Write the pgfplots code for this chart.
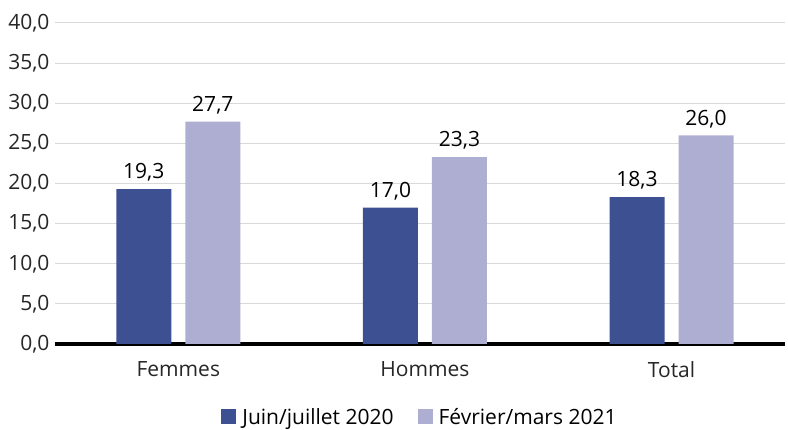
\documentclass[border=0pt]{standalone}
\usepackage{fontspec}
\setmainfont{Open Sans}
\usepackage{pgfplots}
\pgfplotsset{compat=1.18}
\definecolor{darkb}{RGB}{61,80,146}
\definecolor{lightp}{RGB}{174,174,211}
\definecolor{gridc}{RGB}{217,217,217}
\begin{document}
\begin{tikzpicture}
\begin{axis}[
  name=ax,
  scale only axis,
  width=730pt, height=321pt,
  xmin=-0.5, xmax=2.46,
  ymin=0, ymax=40,
  ytick={0,5,...,40},
  xtick={0,1,2},
  xticklabels={Femmes,Hommes,Total},
  ybar, bar width=55pt,
  axis x line*=bottom, axis y line*=left,
  y axis line style={draw=none},
  x axis line style={line width=3.5pt, black, -},
  ymajorgrids, grid style={gridc, line width=1pt},
  major tick length=0pt,
  /pgf/number format/assume math mode=true,
  yticklabel style={/pgf/number format/fixed, /pgf/number format/fixed zerofill, /pgf/number format/precision=1, /pgf/number format/use comma},
  ticklabel style={font=\fontsize{21}{24}\selectfont, text=black!85},
  yticklabel style={xshift=-2pt},
  xticklabel style={yshift=-14pt},
  ytick style={draw=none},
  xtick style={draw=none},
  nodes near coords,
  nodes near coords style={font=\fontsize{21}{24}\selectfont, text=black, yshift=4pt,
     /pgf/number format/fixed, /pgf/number format/fixed zerofill, /pgf/number format/precision=1, /pgf/number format/use comma, /pgf/number format/assume math mode=true},
  legend style={at={(0.5,-0.227)}, anchor=center, draw=none, legend columns=2,
    font=\fontsize{21}{24}\selectfont, inner sep=0pt,
    /tikz/every even column/.append style={column sep=22pt},
    /tikz/every odd column/.append style={column sep=4pt}},
  legend image code/.code={\fill[#1] (0pt,-7pt) rectangle (15pt,8pt);},
  clip=false,
]
\addplot[fill=darkb, draw=none, bar shift=-34.5pt] coordinates {(0,19.3) (1,17.0) (2,18.3)};
\addplot[fill=lightp, draw=none, bar shift=34.5pt] coordinates {(0,27.7) (1,23.3) (2,26.0)};
\legend{Juin/juillet 2020, Février/mars 2021}
\end{axis}
\pgfresetboundingbox
\path ([xshift=-55pt,yshift=-86pt]ax.south west) rectangle ([xshift=3pt,yshift=23pt]ax.north east);
\end{tikzpicture}
\end{document}
